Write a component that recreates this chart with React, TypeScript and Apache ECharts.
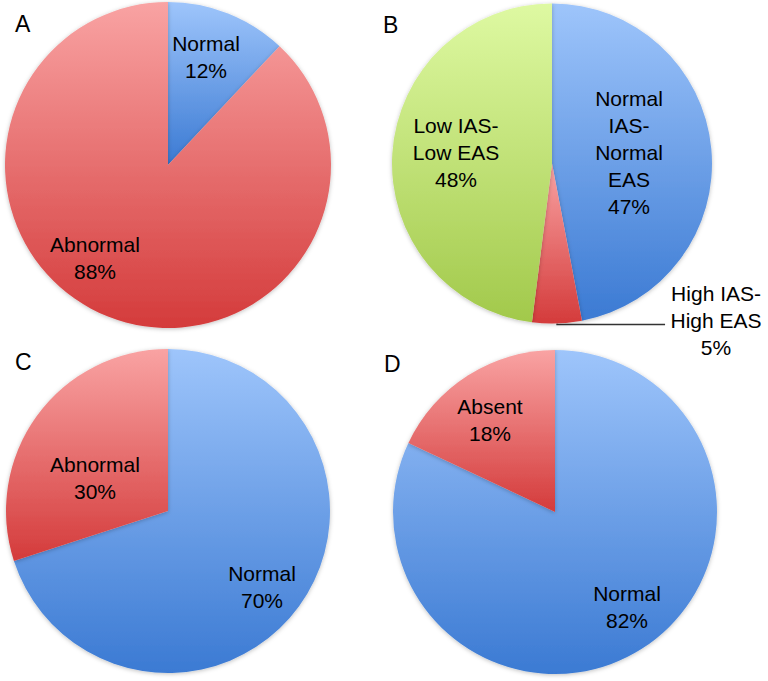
import React, { useEffect, useRef } from "react";
import * as echarts from "echarts";

// Panel A
const catsA = ["Normal", "Abnormal"];
const valsA = [12, 88];
// Panel B
const catsB = ["Normal\nIAS-\nNormal\nEAS", "High IAS-\nHigh EAS", "Low IAS-\nLow EAS"];
const valsB = [47, 5, 48];
// Panel C
const catsC = ["Normal", "Abnormal"];
const valsC = [70, 30];
// Panel D
const catsD = ["Normal", "Absent"];
const valsD = [82, 18];

const panelLetters = ["A", "B", "C", "D"];

const FONT = "'Liberation Sans', Arial, Helvetica, sans-serif";

const grad = (top: string, bottom: string) =>
  new echarts.graphic.LinearGradient(0, 0, 0, 1, [
    { offset: 0, color: top },
    { offset: 1, color: bottom },
  ]);

const BLUE = () => grad("#9ec5fb", "#3b7ad3");
const RED = () => grad("#f9a3a3", "#d43b3b");
const GREEN = () => grad("#def9a2", "#a2c94b");

// label anchor positions (style only)
const LABEL_POS: ([number, number] | null)[][] = [
  [[206, 57], [95, 258]],
  [[629, 152], null, [456, 152]],
  [[262, 587], [95, 478]],
  [[627, 607], [490, 420]],
];

export default function App() {
  const ref = useRef<HTMLDivElement>(null);
  useEffect(() => {
    document.body.style.margin = "0";
    const chart = echarts.init(ref.current!, null, { renderer: "svg" });
    const shadow = {
      shadowBlur: 4,
      shadowColor: "rgba(0,0,0,0.25)",
      shadowOffsetY: 1,
    };
    const labelBase = {
      show: true,
      position: "inside" as const,
      formatter: (p: any) =>
        [...String(p.name).split("\n"), `${p.value}%`].map((l) => `{a|${l}}`).join("\n"),
      rich: {
        a: {
          fontFamily: FONT,
          fontSize: 21,
          lineHeight: 27,
          color: "#000",
          width: 92,
          align: "center" as const,
        },
      },
    };
    const mk = (
      si: number,
      cats: string[],
      vals: number[],
      colors: any[],
      center: [number, number],
      radius: number,
      extra: any = {}
    ) => ({
      type: "pie",
      center,
      radius,
      startAngle: 90,
      clockwise: true,
      avoidLabelOverlap: false,
      silent: true,
      label: labelBase,
      labelLine: { show: false },
      labelLayout: (params: any) => {
        const p = LABEL_POS[si][params.dataIndex];
        if (!p) return { dy: -4 };
        return { x: p[0], y: p[1], align: "center", verticalAlign: "middle" };
      },
      data: cats.map((c, i) => ({
        name: c,
        value: vals[i],
        itemStyle: { color: colors[i], ...shadow },
        ...(extra[i] || {}),
      })),
    });

    const option: any = {
      animation: false,
      backgroundColor: "#fff",
      title: [
        { text: panelLetters[0], left: 10, top: 7 },
        { text: panelLetters[1], left: 378, top: 8 },
        { text: panelLetters[2], left: 10, top: 345 },
        { text: panelLetters[3], left: 379, top: 347 },
      ].map((t) => ({
        ...t,
        textStyle: { fontFamily: FONT, fontSize: 23, fontWeight: "normal", color: "#000" },
      })),
      series: [
        mk(0, catsA, valsA, [BLUE(), RED()], [168, 165], 163),
        mk(1, catsB, valsB, [BLUE(), RED(), GREEN()], [552, 163.5], 160, {
          1: {
            label: { position: "outside", distanceToLabelLine: 5 },
            labelLine: {
              show: true,
              length: 1,
              length2: 108,
              smooth: false,
              lineStyle: { color: "#333", width: 1.5 },
            },
          },
        }),
        mk(2, catsC, valsC, [BLUE(), RED()], [168, 511], 162),
        mk(3, catsD, valsD, [BLUE(), RED()], [555, 512], 162),
      ],
    };
    chart.setOption(option);
    return () => chart.dispose();
  }, []);
  return <div ref={ref} style={{ width: 768, height: 681 }} />;
}
